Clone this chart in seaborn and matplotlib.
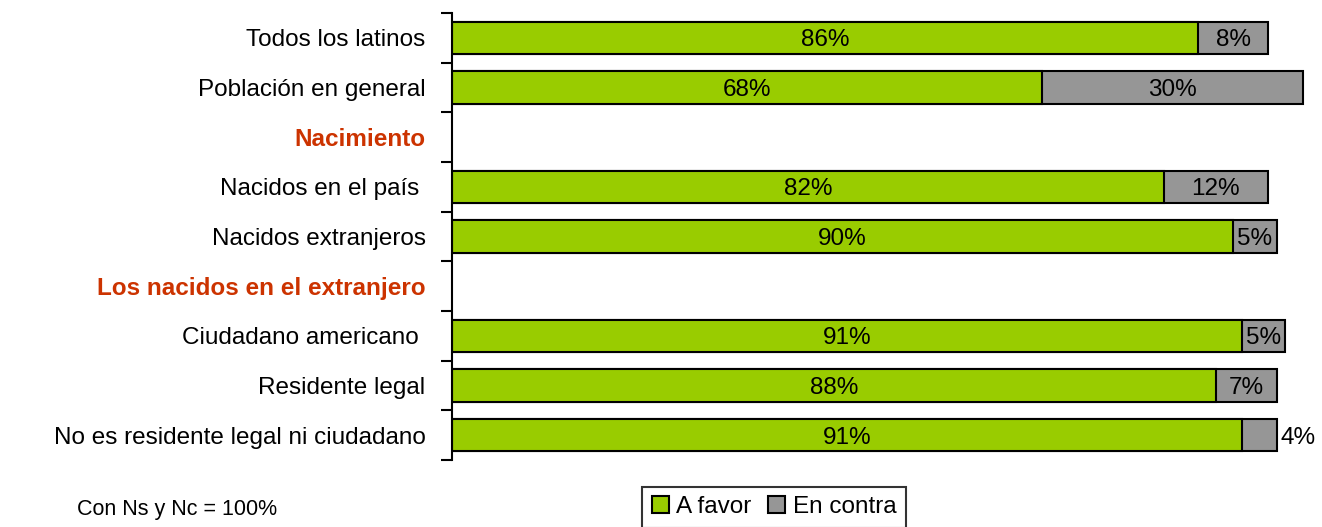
import numpy as np
import pandas as pd
import matplotlib
matplotlib.use("Agg")
import matplotlib.pyplot as plt
import seaborn as sns

# Data
CATEGORIES = ['Todos los latinos', 'Población en general', 'Nacimiento',
              'Nacidos en el país ', 'Nacidos extranjeros',
              'Los nacidos en el extranjero', 'Ciudadano americano ',
              'Residente legal', 'No es residente legal ni ciudadano']
HEADERS = ['Nacimiento', 'Los nacidos en el extranjero']
A_FAVOR = [86, 68, np.nan, 82, 90, np.nan, 91, 88, 91]
EN_CONTRA = [8, 30, np.nan, 12, 5, np.nan, 5, 7, 4]
SERIES = ['A favor', 'En contra']
NOTE = 'Con Ns y Nc = 100%'

GREEN = '#99CC00'
GRAY = '#969696'
HEADER_COLOR = '#CC3300'
FS = 17.5

sns.set_style('white')
plt.rcParams['font.family'] = ['Liberation Sans', 'DejaVu Sans']
plt.rcParams['text.color'] = 'black'

df = pd.DataFrame({'cat': CATEGORIES, 'favor': A_FAVOR, 'contra': EN_CONTRA})
df['total'] = df['favor'] + df['contra']

fig = plt.figure(figsize=(13.22, 5.27), dpi=100)
ax = fig.add_axes([452 / 1322, 67 / 527, 868 / 1322, 447 / 527])

# gray total first, green on top -> stacked look
sns.barplot(data=df, y='cat', x='total', order=CATEGORIES, color=GRAY,
            edgecolor='black', linewidth=1.5, width=0.65, saturation=1,
            ax=ax, label=SERIES[1])
sns.barplot(data=df, y='cat', x='favor', order=CATEGORIES, color=GREEN,
            edgecolor='black', linewidth=1.5, width=0.65, saturation=1,
            ax=ax, label=SERIES[0])
handles, labels = ax.get_legend_handles_labels()
if ax.get_legend() is not None:
    ax.get_legend().remove()

ax.set_xlim(0, 100)
ax.set_ylim(len(CATEGORIES) - 0.5, -0.5)
ax.set_xlabel('')
ax.set_ylabel('')
ax.set_xticks([])
for s in ['top', 'right', 'bottom']:
    ax.spines[s].set_visible(False)
ax.spines['left'].set_linewidth(1.5)
ax.spines['left'].set_color('black')

# ticks at row boundaries, labels at centres
ax.set_yticks(np.arange(len(CATEGORIES) + 1) - 0.5, minor=False)
ax.set_yticklabels([])
ax.tick_params(axis='y', which='major', length=8, width=1.5, color='black',
               direction='out', left=True)
ax.set_yticks(np.arange(len(CATEGORIES)), minor=True)
ax.set_yticklabels(CATEGORIES, minor=True)
ax.tick_params(axis='y', which='minor', length=0, pad=19, labelsize=FS,
               labelcolor='black')
for lbl in ax.get_yticklabels(minor=True):
    if lbl.get_text() in HEADERS:
        lbl.set_color(HEADER_COLOR)
        lbl.set_fontweight('bold')
    else:
        lbl.set_color('black')

# value labels
for i, (f, c) in enumerate(zip(A_FAVOR, EN_CONTRA)):
    if np.isnan(f):
        continue
    ax.text(f / 2, i, f'{f:.0f}%', ha='center', va='center_baseline', fontsize=FS)
    if c >= 5:
        ax.text(f + c / 2, i, f'{c:.0f}%', ha='center', va='center_baseline', fontsize=FS)
    else:
        ax.text(f + c + 0.4, i, f'{c:.0f}%', ha='left', va='center_baseline', fontsize=FS)

# legend
order = [labels.index(SERIES[0]), labels.index(SERIES[1])]
leg = fig.legend([handles[k] for k in order], [labels[k] for k in order],
                 loc='lower center', bbox_to_anchor=(774 / 1322, -0.025),
                 ncol=2, frameon=True, fancybox=False, fontsize=FS,
                 handlelength=0.7, handleheight=0.7, handletextpad=0.3,
                 columnspacing=0.7, borderpad=0.4, edgecolor='black')
leg.get_frame().set_linewidth(1.5)

fig.text(77 / 1322, 1 - 510 / 527, NOTE, fontsize=15.5, va='center', ha='left')

fig.savefig('out.png', dpi=100)
